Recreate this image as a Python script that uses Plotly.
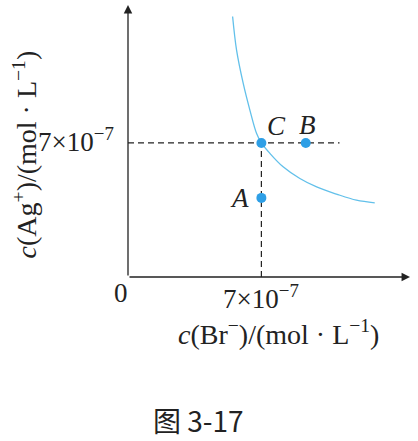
import plotly.graph_objects as go

# ---- data (concentrations in units of 1e-7 mol/L) ----
curve_x = [5.49, 5.70, 6.05, 6.40, 6.75, 7.0, 7.45, 8.14, 9.02, 9.90, 10.94, 11.99, 12.95]
curve_y = [13.60, 11.83, 10.09, 8.70, 7.49, 7.0, 6.45, 5.75, 5.14, 4.70, 4.33, 4.01, 3.87]
point_names = ["A", "B", "C"]
point_x = [7.0, 9.33, 7.0]
point_y = [4.13, 7.0, 7.0]
tick_value = 7.0
tick_label = "7×10<sup>−7</sup>"
origin_label = "0"
x_title = "<i>c</i>(Br<sup>−</sup>)/(mol · L<sup>−1</sup>)"
y_title = "<i>c</i>(Ag<sup>+</sup>)/(mol · L<sup>−1</sup>)"
caption = "图 3-17"
x_max = 14.8
y_max = 14.2
dash_x_end = 11.1

SERIF = "Liberation Serif"
INK = "#222222"
FS = 27

fig = go.Figure()

# dashed guide lines
fig.add_trace(go.Scatter(x=[0, dash_x_end], y=[tick_value, tick_value], mode="lines",
                         line=dict(color=INK, width=1.2, dash="6px,4px"), hoverinfo="skip"))
fig.add_trace(go.Scatter(x=[tick_value, tick_value], y=[0, tick_value], mode="lines",
                         line=dict(color=INK, width=1.2, dash="6px,4px"), hoverinfo="skip"))

# solubility curve
fig.add_trace(go.Scatter(x=curve_x, y=curve_y, mode="lines", line_shape="spline",
                         line=dict(color="#62c0ea", width=1.3), hoverinfo="skip"))

# points
fig.add_trace(go.Scatter(x=point_x, y=point_y, mode="markers",
                         marker=dict(color="#2e9fe6", size=10), hoverinfo="skip"))

annotations = []
# axis arrows
annotations.append(dict(x=x_max, y=0, ax=0, ay=0, xref="x", yref="y", axref="x", ayref="y",
                        text="", showarrow=True, arrowhead=2, arrowsize=1.3, arrowwidth=1.3,
                        arrowcolor=INK))
annotations.append(dict(x=0, y=y_max, ax=0, ay=0, xref="x", yref="y", axref="x", ayref="y",
                        text="", showarrow=True, arrowhead=2, arrowsize=1.3, arrowwidth=1.3,
                        arrowcolor=INK))

# point labels
offsets = {"A": (-22, 0), "B": (2, 18), "C": (15, 17)}
for n, px, py in zip(point_names, point_x, point_y):
    dx, dy = offsets[n]
    annotations.append(dict(x=px, y=py, xref="x", yref="y", text=f"<i>{n}</i>", showarrow=False,
                            xshift=dx, yshift=dy, font=dict(family=SERIF, size=FS, color=INK)))

# tick labels
annotations.append(dict(x=0, y=0, xref="x", yref="y", text=origin_label, showarrow=False,
                        xshift=-7, yshift=-16, font=dict(family=SERIF, size=FS, color=INK)))
annotations.append(dict(x=tick_value, y=0, xref="x", yref="y", text=tick_label, showarrow=False,
                        yshift=-20, font=dict(family=SERIF, size=FS, color=INK)))
annotations.append(dict(x=0, y=tick_value, xref="x", yref="y", text=tick_label, showarrow=False,
                        xanchor="right", xshift=-12, yshift=3, font=dict(family=SERIF, size=FS, color=INK)))

# axis titles
annotations.append(dict(x=7.9, y=0, xref="x", yref="y", text=x_title, showarrow=False,
                        yshift=-55, font=dict(family=SERIF, size=28, color=INK)))
annotations.append(dict(x=0, y=6.4, xref="x", yref="y", text=y_title, showarrow=False,
                        textangle=-90, xshift=-103, font=dict(family=SERIF, size=28, color=INK)))

# caption
annotations.append(dict(x=0.5, y=0, xref="paper", yref="paper", text=caption, showarrow=False,
                        xanchor="center", yanchor="middle", yshift=-143, xshift=-71,
                        font=dict(family="Noto Sans CJK SC", size=28, color=INK)))

fig.update_layout(
    width=418, height=441, autosize=False,
    margin=dict(l=128, r=8, t=5, b=164),
    paper_bgcolor="white", plot_bgcolor="white",
    showlegend=False,
    xaxis=dict(range=[0, x_max], visible=False, fixedrange=True),
    yaxis=dict(range=[0, y_max], visible=False, fixedrange=True),
    annotations=annotations,
)

fig.write_html("out.html", config={"displayModeBar": False},
               post_script="document.body.style.margin='0';document.body.style.overflow='hidden';")
